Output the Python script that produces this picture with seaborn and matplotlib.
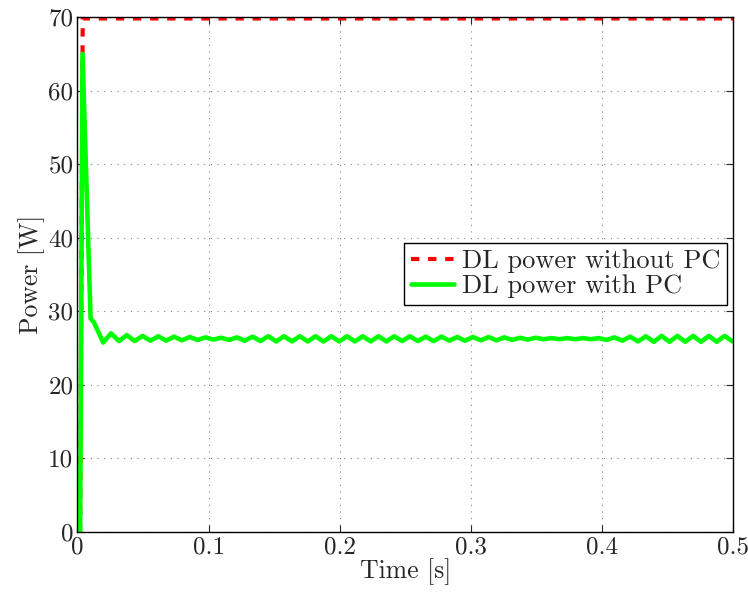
import numpy as np
import pandas as pd
import matplotlib
matplotlib.use('Agg')
import matplotlib.pyplot as plt
import seaborn as sns

# DL power without power control (W)
t_nopc = [0.002, 0.004, 0.5]
p_nopc = [0.0, 69.8, 69.8]

# DL power with power control: start-up transient, then the ripple extrema
t_pc = [0.002, 0.0038, 0.0100, 0.0125,
        0.0196, 0.0256, 0.0316, 0.0376, 0.0436, 0.0496, 0.0556, 0.0616,
        0.0676, 0.0736, 0.0796, 0.0856, 0.0916, 0.0976, 0.1036, 0.1096,
        0.1156, 0.1216, 0.1276, 0.1336, 0.1396, 0.1456, 0.1516, 0.1576,
        0.1636, 0.1696, 0.1756, 0.1816, 0.1876, 0.1936, 0.1996, 0.2056,
        0.2116, 0.2176, 0.2236, 0.2296, 0.2356, 0.2416, 0.2476, 0.2536,
        0.2596, 0.2656, 0.2716, 0.2776, 0.2836, 0.2896, 0.2956, 0.3016,
        0.3076, 0.3136, 0.3196, 0.3256, 0.3316, 0.3376, 0.3436, 0.3496,
        0.3556, 0.3616, 0.3676, 0.3736, 0.3796, 0.3856, 0.3916, 0.3976,
        0.4036, 0.4096, 0.4156, 0.4216, 0.4276, 0.4336, 0.4396, 0.4456,
        0.4516, 0.4576, 0.4636, 0.4696, 0.4756, 0.4816, 0.4876, 0.4936,
        0.4996, 0.5]
p_pc = [0.0, 65.0, 29.0, 28.5,
        25.75, 27.0, 25.95, 26.75, 25.95, 26.65, 26.0, 26.6,
        26.0, 26.55, 26.05, 26.5, 26.1, 26.45, 26.15, 26.4,
        26.1, 26.45, 26.0, 26.55, 25.95, 26.6, 25.9, 26.6,
        25.9, 26.6, 25.9, 26.6, 25.9, 26.6, 25.9, 26.6,
        25.9, 26.6, 25.9, 26.6, 25.9, 26.6, 25.95, 26.6,
        25.95, 26.55, 25.95, 26.55, 26.0, 26.5, 26.0, 26.5,
        26.05, 26.5, 26.05, 26.45, 26.1, 26.4, 26.15, 26.4,
        26.2, 26.35, 26.2, 26.35, 26.2, 26.35, 26.2, 26.35,
        26.1, 26.45, 26.0, 26.55, 25.9, 26.6, 25.85, 26.65,
        25.85, 26.65, 25.85, 26.65, 25.85, 26.65, 25.85, 26.65,
        25.9, 25.95]

x_ticks = [0, 0.1, 0.2, 0.3, 0.4, 0.5]
x_labels = ['0', '0.1', '0.2', '0.3', '0.4', '0.5']
y_ticks = [0, 10, 20, 30, 40, 50, 60, 70]
y_labels = ['0', '10', '20', '30', '40', '50', '60', '70']
labels = ['DL power without PC', 'DL power with PC']

sns.set_style('white')
plt.rcParams['font.family'] = ['cmr10', 'DejaVu Serif']
plt.rcParams['mathtext.fontset'] = 'cm'
plt.rcParams['axes.formatter.use_mathtext'] = True

fig = plt.figure(figsize=(7.48, 5.92), dpi=100)
ax = fig.add_axes([0.1036, 0.1014, 0.8763, 0.8699])

df_nopc = pd.DataFrame({'t': t_nopc, 'p': p_nopc})
df_pc = pd.DataFrame({'t': t_pc, 'p': p_pc})

sns.lineplot(data=df_nopc, x='t', y='p', ax=ax, color='#ff0000', lw=3.0,
             estimator=None, sort=False, dashes=False, label=labels[0])
ax.lines[-1].set_dashes((2.0, 2.1))
sns.lineplot(data=df_pc, x='t', y='p', ax=ax, color='#00ff00', lw=3.3,
             estimator=None, sort=False, label=labels[1])
ax.lines[-1].set_solid_joinstyle('round')

ax.set_xlim(0, 0.5)
ax.set_ylim(0, 70)
ax.set_xticks(x_ticks)
ax.set_xticklabels(x_labels)
ax.set_yticks(y_ticks)
ax.set_yticklabels(y_labels)
ax.tick_params(direction='in', length=5, width=0.8, labelsize=18,
               top=True, right=True, bottom=True, left=True, pad=3)
ax.grid(True, color='#808080', linestyle=(0, (1, 5)), linewidth=0.8)
for s in ax.spines.values():
    s.set_color('black')
    s.set_linewidth(1.0)

ax.set_xlabel('Time [s]', fontsize=18.5, labelpad=0)
ax.set_ylabel('Power [W]', fontsize=18.5, labelpad=2)

leg = ax.legend(loc='upper right', bbox_to_anchor=(0.9908, 0.5612),
                borderaxespad=0, fontsize=19, frameon=True, fancybox=False,
                framealpha=1, edgecolor='black', handlelength=1.65,
                handletextpad=0.3, labelspacing=0.05, borderpad=0.25)
leg.get_frame().set_linewidth(1.0)

plt.savefig('out.png', dpi=100)
plt.close()
